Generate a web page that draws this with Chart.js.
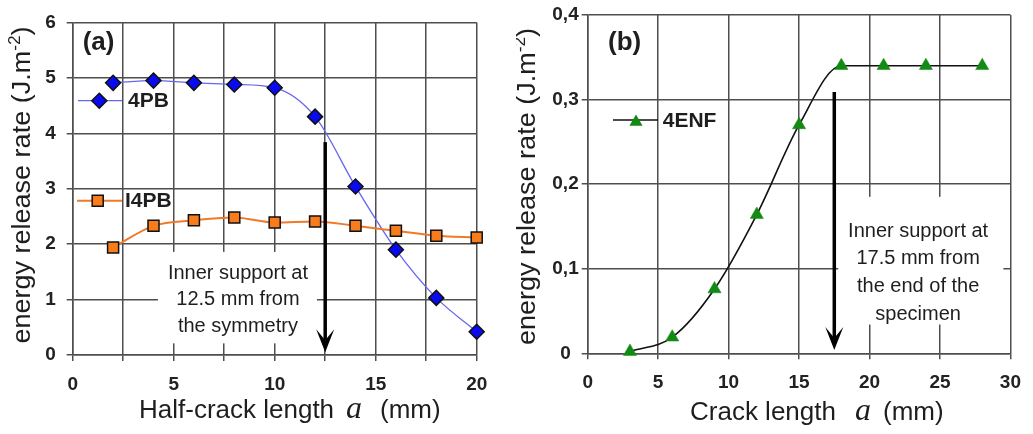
<!DOCTYPE html>
<html>
<head>
<meta charset="utf-8">
<title>Energy release rate</title>
<script src="https://cdn.jsdelivr.net/npm/chart.js@4/dist/chart.umd.min.js"></script>
<style>
  html, body { margin: 0; padding: 0; background: #fff; }
  #wrap { position: relative; width: 1033px; height: 434px; overflow: hidden; }
  canvas { position: absolute; top: 0; }
  #ca { left: 0; }
  #cb { left: 516px; }
</style>
</head>
<body>
<div id="wrap">
  <canvas id="ca" width="520" height="434"></canvas>
  <canvas id="cb" width="517" height="434"></canvas>
</div>
<script>
// ---- Panel (a): four-point bending, half-crack length (mm) ----
const halfCrack = [2, 4, 6, 8, 10, 12, 14, 16, 18, 20];
const g4PB  = [4.91, 4.95, 4.91, 4.88, 4.82, 4.30, 3.04, 1.90, 1.03, 0.42];
const gI4PB = [1.94, 2.33, 2.43, 2.48, 2.39, 2.41, 2.33, 2.24, 2.15, 2.12];
const xTicksA = ['0', '5', '10', '15', '20'];
const yTicksA = ['0', '1', '2', '3', '4', '5', '6'];

// ---- Panel (b): four-point end notched flexure, crack length (mm) ----
const crackLen = [3, 6, 9, 12, 15, 18, 21, 24, 28];
const g4ENF = [0.002, 0.019, 0.076, 0.164, 0.270, 0.340, 0.340, 0.340, 0.340];
const xTicksB = ['0', '5', '10', '15', '20', '25', '30'];
const yTicksB = ['0', '0,1', '0,2', '0,3', '0,4'];

const SANS = "'Liberation Sans', Arial, sans-serif";
const SERIF = "'Liberation Serif', 'Times New Roman', serif";
const GRID = '#4e4e4e';
const INK = '#1e1e1e';

function pairs(xs, ys) { return xs.map((x, i) => ({ x: x, y: ys[i] })); }

// marker shapes, same geometry as Chart.js point styles
function marker(ctx, style, x, y, r, fill, stroke, bw) {
  ctx.save();
  ctx.beginPath();
  if (style === 'rectRot') {
    ctx.moveTo(x - r, y); ctx.lineTo(x, y - r); ctx.lineTo(x + r, y); ctx.lineTo(x, y + r);
  } else if (style === 'rect') {
    const s = Math.SQRT1_2 * r;
    ctx.rect(x - s, y - s, 2 * s, 2 * s);
  } else {
    const k = Math.sin(Math.PI * 2 / 3) * r;
    ctx.moveTo(x, y - r); ctx.lineTo(x + k, y + r / 2); ctx.lineTo(x - k, y + r / 2);
  }
  ctx.closePath();
  ctx.fillStyle = fill; ctx.fill();
  if (bw > 0) { ctx.lineWidth = bw; ctx.strokeStyle = stroke; ctx.stroke(); }
  ctx.restore();
}

function text(ctx, str, x, y, font, align, sx) {
  ctx.save();
  ctx.font = font;
  ctx.fillStyle = INK;
  ctx.textAlign = align || 'left';
  ctx.textBaseline = 'alphabetic';
  ctx.translate(x, y);
  ctx.scale(sx || 1, 1);
  ctx.fillText(str, 0, 0);
  ctx.restore();
}

function arrow(ctx, x, yTop, yTip) {
  ctx.save();
  ctx.strokeStyle = '#000';
  ctx.fillStyle = '#000';
  ctx.lineWidth = 3.5;
  ctx.beginPath();
  ctx.moveTo(x, yTop);
  ctx.lineTo(x, yTip - 12);
  ctx.stroke();
  ctx.beginPath();
  ctx.moveTo(x, yTip);
  ctx.lineTo(x - 9, yTip - 23);
  ctx.lineTo(x, yTip - 12);
  ctx.lineTo(x + 9, yTip - 23);
  ctx.closePath();
  ctx.fill();
  ctx.restore();
}

// rotated y-axis title with a superscript unit exponent
function yTitle(ctx, baseX, midY, sx) {
  const f1 = '25px ' + SANS, f2 = '16px ' + SANS;
  ctx.save();
  ctx.fillStyle = INK;
  ctx.textBaseline = 'alphabetic';
  ctx.font = f1;
  const a = 'energy release rate (J.m', c = ')';
  const wa = ctx.measureText(a).width, wc = ctx.measureText(c).width;
  ctx.font = f2;
  const b = '-2', wb = ctx.measureText(b).width;
  const total = wa + wb + wc;
  ctx.translate(baseX, midY);
  ctx.rotate(-Math.PI / 2);
  ctx.scale(sx, 1);
  let x = -total / 2;
  ctx.font = f1; ctx.fillText(a, x, 0); x += wa;
  ctx.font = f2; ctx.fillText(b, x, -10); x += wb;
  ctx.font = f1; ctx.fillText(c, x, 0);
  ctx.restore();
}

// x-axis title: upright words with an italic serif "a"
function xTitle(ctx, words, xWords, xA, xUnit, baseY) {
  text(ctx, words, xWords, baseY, '26px ' + SANS);
  text(ctx, 'a', xA, baseY, 'italic 32px ' + SERIF);
  text(ctx, '(mm)', xUnit, baseY, '26px ' + SANS);
}

function decor(cfg) {
  return {
    id: 'decor',
    beforeDatasetsDraw(chart) {
      const { ctx, scales: { x, y } } = chart;
      const b = cfg.box;
      const x0 = x.getPixelForValue(b.x0), x1 = x.getPixelForValue(b.x1);
      const y0 = y.getPixelForValue(b.y1), y1 = y.getPixelForValue(b.y0);
      ctx.save();
      ctx.fillStyle = '#fff';
      ctx.fillRect(x0, y0, x1 - x0, y1 - y0);
      ctx.restore();
    },
    afterDatasetsDraw(chart) {
      const { ctx, scales: { x, y } } = chart;
      // support position arrow
      arrow(ctx, x.getPixelForValue(cfg.arrow.x), y.getPixelForValue(cfg.arrow.top), y.getPixelForValue(cfg.arrow.tip));
      // note beside the arrow
      const nx = x.getPixelForValue(cfg.note.x);
      const ny = y.getPixelForValue(cfg.note.y);
      cfg.note.lines.forEach((l, i) => text(ctx, l, nx, ny + i * cfg.note.gap, '20px ' + SANS, 'center'));
      // legend entries
      cfg.legend.forEach(e => {
        ctx.save();
        ctx.strokeStyle = e.line; ctx.lineWidth = e.lw;
        ctx.beginPath(); ctx.moveTo(e.x0, e.y); ctx.lineTo(e.x1, e.y); ctx.stroke();
        ctx.restore();
        marker(ctx, e.style, e.mx, e.my, e.r, e.fill, '#111', e.bw);
        text(ctx, e.label, e.tx, e.ty, 'bold 21px ' + SANS);
      });
      // panel tag
      text(ctx, cfg.tag.t, cfg.tag.x, cfg.tag.y, 'bold 26px ' + SANS);
    },
    afterDraw(chart) {
      const ctx = chart.ctx;
      yTitle(ctx, cfg.yTitle.x, cfg.yTitle.y, 1.08);
      xTitle(ctx, cfg.xTitle.words, cfg.xTitle.x, cfg.xTitle.a, cfg.xTitle.unit, cfg.xTitle.base);
    }
  };
}

function tickFont() { return { family: SANS, size: 19, weight: 'bold' }; }

function axisX(min, max, step, labels, height, pad) {
  return {
    type: 'linear', min: min, max: max,
    ticks: {
      stepSize: step, autoSkip: false, maxRotation: 0, minRotation: 0,
      padding: pad, color: '#222', font: tickFont(),
      callback: v => {
        const k = v / ((max - min) / (labels.length - 1));
        return Math.abs(k - Math.round(k)) < 1e-6 ? labels[Math.round(k)] : '';
      }
    },
    grid: { color: GRID, lineWidth: 1.5, tickLength: 6, drawOnChartArea: true },
    border: { color: GRID, width: 1.5 },
    afterFit: s => { s.height = height; }
  };
}

function axisY(min, max, step, labels, width, pad, align) {
  return {
    type: 'linear', min: min, max: max,
    ticks: {
      stepSize: step, autoSkip: false, padding: pad, color: '#222', font: tickFont(),
      crossAlign: align,
      callback: v => labels[Math.round((v - min) / step)]
    },
    grid: { color: GRID, lineWidth: 1.5, tickLength: 6 },
    border: { color: GRID, width: 1.5 },
    afterFit: s => { s.width = width; }
  };
}

const common = {
  responsive: false,
  animation: false,
  devicePixelRatio: 1,
  plugins: { legend: { display: false }, tooltip: { enabled: false } },
  events: []
};

// Panel (a)
new Chart(document.getElementById('ca'), {
  type: 'line',
  data: {
    datasets: [
      {
        label: 'I4PB', data: pairs(halfCrack, gI4PB),
        borderColor: '#f07a28', borderWidth: 2, cubicInterpolationMode: 'monotone', clip: false,
        pointStyle: 'rect', pointRadius: 7.8, pointBackgroundColor: '#f97c1c',
        pointBorderColor: '#111', pointBorderWidth: 1.5
      },
      {
        label: '4PB', data: pairs(halfCrack, g4PB),
        borderColor: '#6767ee', borderWidth: 1.3, cubicInterpolationMode: 'monotone', clip: false,
        pointStyle: 'rectRot', pointRadius: 7.5, pointBackgroundColor: '#0a0af0',
        pointBorderColor: '#111', pointBorderWidth: 1.5
      }
    ]
  },
  options: Object.assign({}, common, {
    layout: { padding: { left: 0, top: 15.7, right: 43.3, bottom: 0 } },
    scales: {
      x: axisX(0, 20, 2.5, xTicksA, 79, 12),
      y: axisY(0, 6, 1, yTicksA, 72.7, 11, 'near')
    }
  }),
  plugins: [decor({
    box: { x0: 4.22, x1: 12.09, y0: 0.21, y1: 1.86 },
    arrow: { x: 12.5, top: 3.84, tip: 0.05 },
    note: { x: 8.18, y: 1.375, gap: 26.5, lines: ['Inner support at', '12.5 mm from', 'the symmetry'] },
    legend: [
      { label: '4PB', line: '#6767ee', lw: 1.3, x0: 78, x1: 122, y: 100.7, style: 'rectRot', mx: 99.3, my: 100.7, r: 7.5, fill: '#0a0af0', bw: 1.5, tx: 128, ty: 107 },
      { label: 'I4PB', line: '#f07a28', lw: 2, x0: 77, x1: 122, y: 200.7, style: 'rect', mx: 97.7, my: 200.7, r: 7.8, fill: '#f97c1c', bw: 1.5, tx: 125, ty: 207 }
    ],
    tag: { t: '(a)', x: 82.7, y: 50 },
    yTitle: { x: 30, y: 185 },
    xTitle: { words: 'Half-crack length', x: 139, a: 346, unit: 380, base: 418 }
  })]
});

// Panel (b)
new Chart(document.getElementById('cb'), {
  type: 'line',
  data: {
    datasets: [
      {
        label: '4ENF', data: pairs(crackLen, g4ENF),
        borderColor: '#111', borderWidth: 1.6, cubicInterpolationMode: 'monotone', clip: false,
        pointStyle: 'triangle', pointRadius: 7.6, pointBackgroundColor: '#138a13',
        pointBorderColor: '#138a13', pointBorderWidth: 0.5
      }
    ]
  },
  options: Object.assign({}, common, {
    layout: { padding: { left: 0, top: 15, right: 16.3, bottom: 0 } },
    scales: {
      x: axisX(0, 30, 5, xTicksB, 80.7, 12),
      y: axisY(0, 0.4, 0.1, yTicksB, 71.7, 3, 'center')
    }
  }),
  plugins: [decor({
    box: { x0: 17.78, x1: 29.5, y0: 0.034, y1: 0.185 },
    arrow: { x: 17.5, top: 0.309, tip: 0.004 },
    note: { x: 23.45, y: 0.138, gap: 27.8, lines: ['Inner support at', '17.5 mm from', 'the end of the', 'specimen'] },
    legend: [
      { label: '4ENF', line: '#111', lw: 1.6, x0: 97, x1: 142, y: 120, style: 'triangle', mx: 120, my: 122, r: 7.6, fill: '#138a13', bw: 0, tx: 146.7, ty: 127 }
    ],
    tag: { t: '(b)', x: 92, y: 50 },
    yTitle: { x: 19, y: 186.5 },
    xTitle: { words: 'Crack length', x: 174, a: 339, unit: 367, base: 420 }
  })]
});
</script>
</body>
</html>
